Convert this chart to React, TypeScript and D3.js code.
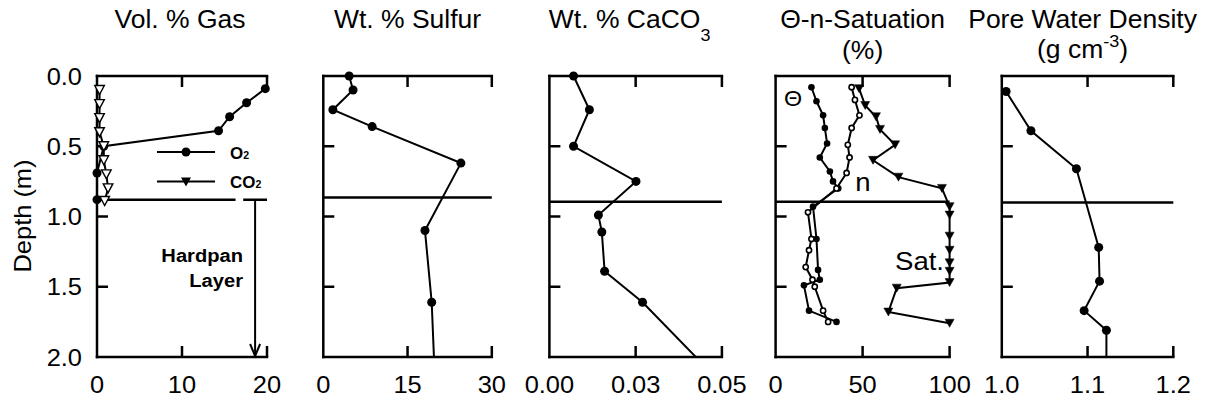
import React from 'react';
import * as d3 from 'd3';

// depth (m) vs. value pairs
const depthTicks = [0, 0.5, 1.0, 1.5, 2.0];
const depthLabels = ['0.0', '0.5', '1.0', '1.5', '2.0'];

const o2Profile = [[0.09, 19.8], [0.19, 17.6], [0.29, 15.6], [0.39, 14.3], [0.5, 0.8], [0.69, 0], [0.88, 0]];
const co2Profile = [[0.1, 0.3], [0.2, 0.3], [0.3, 0.3], [0.4, 0.3], [0.5, 0.8], [0.6, 0.8], [0.7, 1.1], [0.8, 1.3], [0.89, 0.9]];
const sulfurProfile = [[0, 4.6], [0.1, 5.3], [0.24, 1.7], [0.36, 8.7], [0.62, 24.5], [1.1, 18.1], [1.61, 19.3], [2.1, 19.8]];
const caco3Profile = [[0, 0.007], [0.24, 0.0116], [0.5, 0.007], [0.75, 0.0251], [0.99, 0.0142], [1.11, 0.0152], [1.39, 0.016], [1.61, 0.027], [2.1, 0.0464]];
const thetaProfile = [[0.08, 20.6], [0.18, 23.5], [0.28, 27.3], [0.37, 28.3], [0.48, 29.6], [0.58, 25.4], [0.68, 31.2], [0.75, 33], [0.8, 36], [0.93, 21.5], [1.16, 23.5], [1.38, 24.4], [1.45, 25.4], [1.49, 16.3], [1.67, 19.2], [1.75, 35]];
const nProfile = [[0.08, 43.7], [0.17, 45.6], [0.28, 48.2], [0.37, 43.7], [0.49, 41.5], [0.58, 42.5], [0.69, 40.8], [0.8, 35], [0.97, 18.6], [1.16, 20.6], [1.24, 19.2], [1.36, 17.3], [1.45, 21.2], [1.5, 22.5], [1.67, 27.3], [1.75, 30.2]];
const satProfile = [[0.09, 48], [0.21, 51.5], [0.29, 57.7], [0.38, 60], [0.49, 68.7], [0.6, 56], [0.72, 70.6], [0.8, 95.6], [0.93, 100], [0.99, 100], [1.14, 100], [1.24, 100], [1.33, 100], [1.39, 100], [1.47, 100], [1.51, 69.6], [1.68, 64.8], [1.76, 100]];
const densityProfile = [[0.11, 1.005], [0.39, 1.034], [0.66, 1.087], [1.22, 1.113], [1.46, 1.114], [1.67, 1.096], [1.81, 1.122], [2.1, 1.122]];

const hardpanDepth = [0.88, 0.865, 0.895, 0.895, 0.9];
const hardpanGap = [16.3, 17.2];
const hardpanArrowX = 18.6;

const xDomains = [[0, 20], [0, 30], [0, 0.05], [0, 100], [1.0, 1.2]];
const xTicks = [[0, 10, 20], [0, 15, 30], [0, 0.025, 0.05], [0, 50, 100], [1.0, 1.1, 1.2]];
const xTickLabels = [['0', '10', '20'], ['0', '15', '30'], ['0.00', '0.03', '0.05'], ['0', '50', '100'], ['1.0', '1.1', '1.2']];

const FONT = '"Liberation Sans", Arial, Helvetica, sans-serif';
const SX = 1.06; // the source text is slightly wide

const TOP = 76, BOTTOM = 357;
const panelLeft = [97, 323.3, 549.4, 775.6, 1001.8];
const panelWidth = [170, 168.5, 172.5, 174, 171.5];
const TICK = 11;

function Label({ x, y, size = 24, anchor = 'middle', weight = 'normal', rotate = 0, children }: any) {
    return (
        <g transform={`translate(${x},${y}) rotate(${rotate}) scale(${SX},1)`}>
            <text textAnchor={anchor} fontSize={size} fontWeight={weight} fontFamily={FONT} fill="#000">{children}</text>
        </g>
    );
}

const triDown = (cx: number, cy: number, w: number, h: number) =>
    `M${cx - w},${cy - h / 2}L${cx + w},${cy - h / 2}L${cx},${cy + h / 2}Z`;

function Frame({ i, x, y }: any) {
    const x0 = panelLeft[i], x1 = panelLeft[i] + panelWidth[i];
    return (
        <g stroke="#000" strokeWidth={2.5} strokeLinecap="square">
            <line x1={x0} x2={x0} y1={TOP} y2={BOTTOM} />
            <line x1={x0} x2={x1} y1={TOP} y2={TOP} />
            <line x1={x0} x2={x1} y1={BOTTOM} y2={BOTTOM} />
            {xTicks[i].slice(1).map((t, k) => (
                <g key={k}>
                    <line x1={x(t)} x2={x(t)} y1={TOP} y2={TOP + TICK} strokeLinecap="butt" />
                    <line x1={x(t)} x2={x(t)} y1={BOTTOM} y2={BOTTOM - TICK} strokeLinecap="butt" />
                </g>
            ))}
            {depthTicks.slice(1, -1).map((t, k) => (
                <line key={k} x1={x0} x2={x0 + TICK} y1={y(t)} y2={y(t)} strokeLinecap="butt" />
            ))}
            <line x1={x0} x2={x1} y1={y(hardpanDepth[i])} y2={y(hardpanDepth[i])}
                strokeDasharray={i === 0 ? `${x(hardpanGap[0]) - x0} ${x(hardpanGap[1]) - x(hardpanGap[0])} 1000` : undefined}
                strokeLinecap="butt" />
        </g>
    );
}

export default function App() {
    const y = d3.scaleLinear().domain([0, 2]).range([TOP, BOTTOM]);
    const xs = xDomains.map((dom, i) => d3.scaleLinear().domain(dom).range([panelLeft[i], panelLeft[i] + panelWidth[i]]));
    const lineFor = (x: any) => d3.line<number[]>().x(d => x(d[1])).y(d => y(d[0]));

    const dots = (data: number[][], x: any, r: number, open = false) =>
        data.map((d, k) => (
            <circle key={k} cx={x(d[1])} cy={y(d[0])} r={r}
                fill={open ? '#fff' : '#000'} stroke="#000" strokeWidth={open ? 1.6 : 0} />
        ));
    const tris = (data: number[][], x: any, w: number, h: number, open = false) =>
        data.map((d, k) => (
            <path key={k} d={triDown(x(d[1]), y(d[0]), w, h)}
                fill={open ? '#fff' : '#000'} stroke="#000" strokeWidth={open ? 1.4 : 0.5} />
        ));

    const [xg, xsul, xca, xsat, xden] = xs;
    const titleX = (i: number) => panelLeft[i] + panelWidth[i] / 2;

    return (
        <svg width={1207} height={404} style={{ position: 'absolute', left: 0, top: 0, background: '#fff' }}>
            <defs>
                {xs.map((x, i) => (
                    <clipPath id={`clip${i}`} key={i}>
                        <rect x={panelLeft[i] - 20} y={TOP - 30} width={panelWidth[i] + 40} height={BOTTOM - TOP + 30} />
                    </clipPath>
                ))}
            </defs>

            {/* titles */}
            <Label x={titleX(0) - 2} y={28} size={25}>Vol. % Gas</Label>
            <Label x={titleX(1)} y={28} size={25}>Wt. % Sulfur</Label>
            <Label x={titleX(2) - 6} y={28} size={25}>Wt. % CaCO<tspan fontSize={17} dy={13}>3</tspan></Label>
            <Label x={titleX(3)} y={28} size={25}>Θ-n-Satuation</Label>
            <Label x={titleX(3)} y={59} size={25}>(%)</Label>
            <Label x={titleX(4) - 5} y={28} size={25}>Pore Water Density</Label>
            <Label x={titleX(4) - 5} y={58} size={25}>(g cm<tspan fontSize={17} dy={-11}>-3</tspan><tspan dy={11}>)</tspan></Label>

            {/* depth axis */}
            <Label x={31} y={216} size={24} rotate={-90}>Depth (m)</Label>
            {depthTicks.map((t, k) => (
                <Label key={k} x={82} y={y(t) + 8.5} size={24} anchor="end">{depthLabels[k]}</Label>
            ))}

            {xs.map((x, i) => (
                <g key={i}>
                    <Frame i={i} x={x} y={y} />
                    {xTicks[i].map((t, k) => (
                        <Label key={k} x={x(t)} y={393} size={24}>{xTickLabels[i][k]}</Label>
                    ))}
                </g>
            ))}

            {/* panel 1: gases */}
            <g clipPath="url(#clip0)">
                <path d={lineFor(xg)(o2Profile) || ''} fill="none" stroke="#000" strokeWidth={2} />
                {dots(o2Profile, xg, 4.5)}
                <path d={lineFor(xg)(co2Profile) || ''} fill="none" stroke="#000" strokeWidth={2} />
                {tris(co2Profile, xg, 4.8, 9, true)}
            </g>
            <g stroke="#000" strokeWidth={2}>
                <line x1={xg(hardpanArrowX)} x2={xg(hardpanArrowX)} y1={y(hardpanDepth[0])} y2={BOTTOM - 1} />
                <polyline points={`${xg(hardpanArrowX) - 5},${BOTTOM - 13} ${xg(hardpanArrowX)},${BOTTOM - 1} ${xg(hardpanArrowX) + 5},${BOTTOM - 13}`} fill="none" />
            </g>
            <Label x={243} y={262} size={19} anchor="end" weight="bold">Hardpan</Label>
            <Label x={243} y={287} size={19} anchor="end" weight="bold">Layer</Label>
            {/* legend */}
            <g stroke="#000" strokeWidth={2}>
                <line x1={157} x2={215} y1={152} y2={152} />
                <line x1={157} x2={215} y1={181.5} y2={181.5} />
            </g>
            <circle cx={186} cy={152} r={4.5} fill="#000" />
            <path d={triDown(186, 182, 5, 9)} fill="#000" />
            <Label x={230} y={159} size={16} anchor="start" weight="bold">O<tspan fontSize={10}>2</tspan></Label>
            <Label x={230} y={188} size={16} anchor="start" weight="bold">CO<tspan fontSize={10}>2</tspan></Label>

            {/* panel 2: sulfur */}
            <g clipPath="url(#clip1)">
                <path d={lineFor(xsul)(sulfurProfile) || ''} fill="none" stroke="#000" strokeWidth={2} />
                {dots(sulfurProfile, xsul, 4.5)}
            </g>

            {/* panel 3: CaCO3 */}
            <g clipPath="url(#clip2)">
                <path d={lineFor(xca)(caco3Profile) || ''} fill="none" stroke="#000" strokeWidth={2} />
                {dots(caco3Profile, xca, 4.5)}
            </g>

            {/* panel 4: theta, n, saturation */}
            <g clipPath="url(#clip3)">
                <path d={lineFor(xsat)(thetaProfile) || ''} fill="none" stroke="#000" strokeWidth={2} />
                {dots(thetaProfile, xsat, 3.3)}
                <path d={lineFor(xsat)(nProfile) || ''} fill="none" stroke="#000" strokeWidth={2} />
                {dots(nProfile, xsat, 2.6, true)}
                <path d={lineFor(xsat)(satProfile) || ''} fill="none" stroke="#000" strokeWidth={2} />
                {tris(satProfile, xsat, 4.5, 8)}
            </g>
            <Label x={793} y={106} size={22}>Θ</Label>
            <Label x={863} y={191} size={26}>n</Label>
            <Label x={895} y={270} size={26} anchor="start">Sat.</Label>

            {/* panel 5: pore water density */}
            <g clipPath="url(#clip4)">
                <path d={lineFor(xden)(densityProfile) || ''} fill="none" stroke="#000" strokeWidth={2} />
                {dots(densityProfile, xden, 4.5)}
            </g>
        </svg>
    );
}
